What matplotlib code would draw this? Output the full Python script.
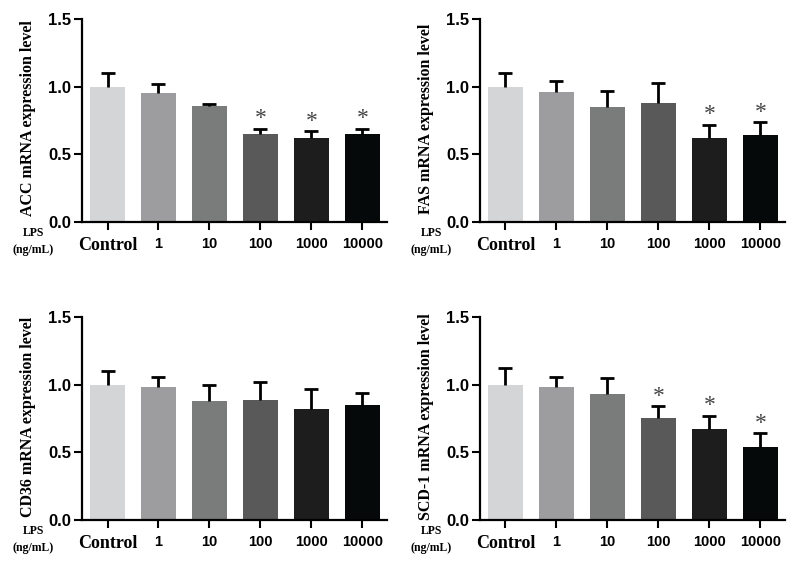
import numpy as np
import matplotlib
matplotlib.use("Agg")
import matplotlib.pyplot as plt

# Data
doses = ["Control", "1", "10", "100", "1000", "10000"]
genes = ["ACC", "FAS", "CD36", "SCD-1"]

acc_mean = [1.00, 0.95, 0.86, 0.65, 0.62, 0.65]
acc_err = [0.10, 0.07, 0.015, 0.04, 0.05, 0.04]
acc_sig = [False, False, False, True, True, True]

fas_mean = [1.00, 0.96, 0.85, 0.88, 0.62, 0.64]
fas_err = [0.10, 0.08, 0.12, 0.15, 0.10, 0.10]
fas_sig = [False, False, False, False, True, True]

cd36_mean = [1.00, 0.98, 0.88, 0.89, 0.82, 0.85]
cd36_err = [0.10, 0.08, 0.12, 0.13, 0.15, 0.09]
cd36_sig = [False] * 6

scd1_mean = [1.00, 0.98, 0.93, 0.75, 0.67, 0.54]
scd1_err = [0.12, 0.08, 0.12, 0.09, 0.10, 0.10]
scd1_sig = [False, False, False, True, True, True]

bar_colors = ["#d4d5d7", "#9d9d9f", "#7a7b7b", "#595959", "#1d1d1d", "#060909"]

serif = "Liberation Serif"
sans = "Liberation Sans"

fig = plt.figure(figsize=(7.98, 5.66), dpi=100)
fig.patch.set_facecolor("white")

# axes boxes in figure fraction (left, bottom, width, height)
boxes = [
    (0.1028, 0.6078, 0.382, 0.3587),
    (0.6015, 0.6078, 0.382, 0.3587),
    (0.1028, 0.0813, 0.382, 0.3587),
    (0.6015, 0.0813, 0.382, 0.3587),
]
means = [acc_mean, fas_mean, cd36_mean, scd1_mean]
errs = [acc_err, fas_err, cd36_err, scd1_err]
sigs = [acc_sig, fas_sig, cd36_sig, scd1_sig]

x = np.arange(len(doses))
for box, gene, m, e, s in zip(boxes, genes, means, errs, sigs):
    ax = fig.add_axes(box)
    m = np.array(m)
    e = np.array(e)
    ax.bar(x, m, width=0.69, color=bar_colors, zorder=2)
    # upper-only error bars
    ax.vlines(x, m, m + e, color="black", lw=2, zorder=3)
    ax.plot(x, m + e, ls="none", marker="_", ms=10, mew=2, color="black", zorder=3)
    for xi, top, flag in zip(x, m + e, s):
        if flag:
            ax.text(xi, top - 0.005, "*", ha="center", va="bottom",
                    fontsize=17, color="#444444", family=serif)

    ax.set_xlim(-0.5, 5.48)
    ax.set_ylim(0, 1.5)
    ax.set_yticks([0.0, 0.5, 1.0, 1.5])
    ax.set_yticklabels(["0.0", "0.5", "1.0", "1.5"], family=sans,
                       fontweight="bold", fontsize=12)
    ax.set_xticks(x)
    ax.set_xticklabels(doses, fontweight="bold", fontsize=10.5, family=sans)
    ax.get_xticklabels()[0].set_family(serif)
    ax.get_xticklabels()[0].set_fontsize(13)
    ax.tick_params(axis="x", length=6, width=1.5, pad=5)
    ax.tick_params(axis="y", length=6, width=1.5, pad=2)

    for side in ["top", "right"]:
        ax.spines[side].set_visible(False)
    for side in ["left", "bottom"]:
        ax.spines[side].set_linewidth(1.6)

    ax.set_ylabel(gene + " mRNA expression level", family=serif,
                  fontweight="bold", fontsize=11.5)
    ax.yaxis.set_label_coords(-0.15, 0.51)

    ax.text(-0.16, -0.095, "LPS\n(ng/mL)", transform=ax.transAxes,
            ha="center", va="center", family=serif, fontweight="bold",
            fontsize=8.5, linespacing=1.6)

fig.savefig("out.png", dpi=100, facecolor="white")
